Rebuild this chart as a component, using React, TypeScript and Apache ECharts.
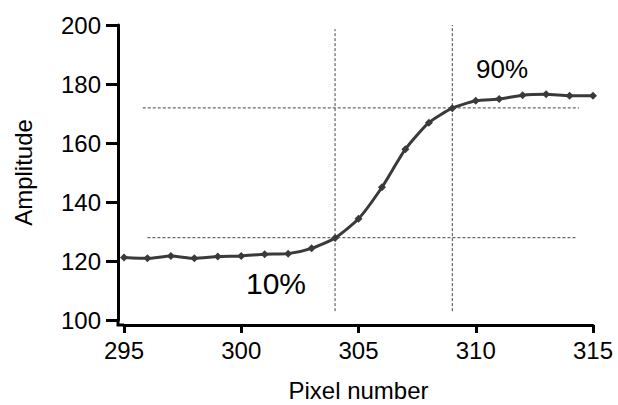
import React, { useEffect, useRef } from "react";
import * as echarts from "echarts";

const pixelNumbers = [295, 296, 297, 298, 299, 300, 301, 302, 303, 304, 305, 306, 307, 308, 309, 310, 311, 312, 313, 314, 315];
const amplitudes = [121.2, 120.9, 121.7, 120.9, 121.5, 121.7, 122.3, 122.5, 124.3, 127.8, 134.3, 145.0, 157.9, 166.9, 171.8, 174.3, 174.9, 176.2, 176.5, 176.0, 176.0];

const level10 = 127.9;
const level90 = 171.9;
const line10X = [296.0, 314.3];
const line90X = [295.8, 314.4];
const cross10 = 304;
const cross90 = 309;
const vLine10Y = [103, 198.6];
const vLine90Y = [103, 200];

const xTicks = [295, 300, 305, 310, 315];
const yTicks = [100, 120, 140, 160, 180, 200];

const FONT = "'Liberation Sans', Arial, sans-serif";

export default function App() {
  const ref = useRef<HTMLDivElement>(null);
  useEffect(() => {
    if (!ref.current) return;
    const chart = echarts.init(ref.current, undefined, { renderer: "svg" });
    const dashStyle = { color: "#444", width: 1, type: [3, 2] as any };
    chart.setOption({
      animation: false,
      backgroundColor: "#fff",
      grid: { left: 124, right: 25, top: 25, bottom: 85, outerBoundsMode: "none" },
      xAxis: {
        type: "value",
        min: xTicks[0],
        max: xTicks[xTicks.length - 1],
        interval: 5,
        offset: 5,
        name: "Pixel number",
        nameLocation: "middle",
        nameGap: 53,
        nameTextStyle: { fontFamily: FONT, fontSize: 24, color: "#000", lineHeight: 24 },
        axisLine: { show: true, lineStyle: { color: "#000", width: 3 } },
        axisTick: { show: true, length: 8, lineStyle: { color: "#000", width: 3 } },
        axisLabel: { fontFamily: FONT, fontSize: 24, color: "#000", margin: 13 },
        splitLine: { show: false },
      },
      yAxis: {
        type: "value",
        min: yTicks[0],
        max: yTicks[yTicks.length - 1],
        interval: 20,
        offset: 6,
        name: "Amplitude",
        nameLocation: "middle",
        nameGap: 83,
        nameRotate: 90,
        nameTextStyle: { fontFamily: FONT, fontSize: 24, color: "#000" },
        axisLine: { show: true, lineStyle: { color: "#000", width: 3 } },
        axisTick: { show: true, length: 12, lineStyle: { color: "#000", width: 3 } },
        axisLabel: { fontFamily: FONT, fontSize: 24, color: "#000", margin: 17 },
        splitLine: { show: false },
      },
      graphic: [
        {
          type: "polyline",
          shape: { points: [[118, 320], [118, 325], [124, 325]] },
          style: { stroke: "#000", lineWidth: 3, fill: null },
          z: 10,
        },
        {
          type: "text",
          x: 276,
          y: 283,
          style: { text: "10%", font: `30px ${FONT}`, fill: "#000", textAlign: "center", textVerticalAlign: "middle" },
        },
        {
          type: "text",
          x: 502,
          y: 69,
          style: { text: "90%", font: `26px ${FONT}`, fill: "#000", textAlign: "center", textVerticalAlign: "middle" },
        },
      ],
      series: [
        {
          type: "line",
          data: line10X.map((x) => [x, level10]),
          symbol: "none",
          lineStyle: dashStyle,
          z: 1,
        },
        {
          type: "line",
          data: line90X.map((x) => [x, level90]),
          symbol: "none",
          lineStyle: dashStyle,
          z: 1,
        },
        {
          type: "line",
          data: vLine10Y.map((y) => [cross10, y]),
          symbol: "none",
          lineStyle: dashStyle,
          z: 1,
        },
        {
          type: "line",
          data: vLine90Y.map((y) => [cross90, y]),
          symbol: "none",
          lineStyle: dashStyle,
          z: 1,
        },
        {
          type: "line",
          data: pixelNumbers.map((x, i) => [x, amplitudes[i]]),
          smooth: 0.2,
          symbol: "diamond",
          symbolSize: 8,
          itemStyle: { color: "#3a3a3a" },
          lineStyle: { color: "#3a3a3a", width: 3 },
          z: 5,
        },
      ],
    });
    return () => chart.dispose();
  }, []);
  return <div ref={ref} style={{ position: "fixed", left: 0, top: 0, width: 618, height: 405 }} />;
}
